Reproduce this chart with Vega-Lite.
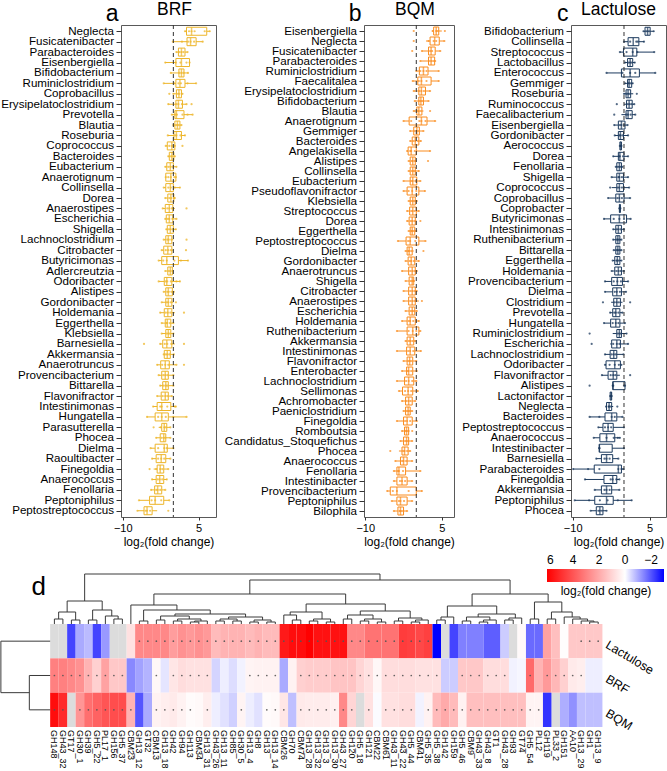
{
"$schema": "https://vega.github.io/schema/vega-lite/v6.json",
"padding": {"left": 0, "top": 0, "right": 0, "bottom": 0},
"background": "white",
"config": {
  "font": "Liberation Sans",
  "view": {"stroke": "#595959", "strokeWidth": 1},
  "axis": {"grid": false, "domain": false, "labelColor": "#000", "tickColor": "#333", "titleColor": "#000", "titleFontWeight": "normal"},
  "title": {"fontWeight": "normal", "color": "#000"}
},
"datasets": {
"brf": [
{"g":"Neglecta","lo":2.3,"q1":2.6,"md":3.6,"q3":6.6,"hi":7.2,"o":[2.3,3.1,3.6,4.2,6.2,7.2]},
{"g":"Fusicatenibacter","lo":-0.1,"q1":2.7,"md":3.4,"q3":4.5,"hi":5.8,"o":[-0.1,1.7,2.9,3.4,4.1,5.8]},
{"g":"Parabacteroides","lo":0.6,"q1":1.0,"md":1.6,"q3":2.3,"hi":2.8,"o":[0.6,1.2,1.6,2.0,2.8]},
{"g":"Eisenbergiella","lo":-1.6,"q1":0.5,"md":1.6,"q3":3.2,"hi":3.2,"o":[-1.6,0.5,1.4,2.6,3.2]},
{"g":"Bifidobacterium","lo":-0.5,"q1":1.1,"md":1.6,"q3":2.1,"hi":2.9,"o":[-0.5,1.2,1.6,2.0,2.9]},
{"g":"Ruminiclostridium","lo":-1.9,"q1":0.5,"md":1.3,"q3":2.3,"hi":4.5,"o":[-1.9,0.2,1.0,1.5,2.8,4.5]},
{"g":"Coprobacillus","lo":0.0,"q1":0.6,"md":1.1,"q3":1.6,"hi":1.8,"o":[-0.8,0.0,0.9,1.2,1.8]},
{"g":"Erysipelatoclostridium","lo":-1.0,"q1":0.5,"md":1.0,"q3":1.8,"hi":2.6,"o":[-1.0,0.6,1.0,1.7,2.6,3.6]},
{"g":"Prevotella","lo":-0.3,"q1":0.3,"md":0.6,"q3":2.1,"hi":3.8,"o":[-0.3,0.4,0.7,1.8,2.8,3.8]},
{"g":"Blautia","lo":0.0,"q1":0.3,"md":0.8,"q3":1.3,"hi":1.6,"o":[0.0,0.5,0.8,1.1,1.6]},
{"g":"Roseburia","lo":-1.1,"q1":0.1,"md":0.6,"q3":1.6,"hi":2.3,"o":[-1.1,0.3,0.6,1.4,2.3]},
{"g":"Coprococcus","lo":-1.5,"q1":-1.2,"md":-0.3,"q3":0.3,"hi":0.5,"o":[-1.5,-0.8,-0.3,0.2,1.8]},
{"g":"Bacteroides","lo":-1.0,"q1":-0.8,"md":-0.3,"q3":0.1,"hi":0.3,"o":[-1.0,-0.5,-0.2,0.3]},
{"g":"Eubacterium","lo":-1.6,"q1":-1.3,"md":-0.6,"q3":0.0,"hi":0.6,"o":[-1.6,-1.0,-0.6,-0.2,0.6]},
{"g":"Anaerotignum","lo":-1.5,"q1":-1.5,"md":-0.5,"q3":0.5,"hi":0.5,"o":[-1.5,-1.0,-0.5,0.2,0.5]},
{"g":"Collinsella","lo":-1.9,"q1":-1.5,"md":-0.6,"q3":0.0,"hi":1.3,"o":[-1.9,-1.0,-0.5,0.3,1.3]},
{"g":"Dorea","lo":-1.6,"q1":-1.1,"md":-0.5,"q3":0.1,"hi":0.3,"o":[-1.6,-0.8,-0.4,0.1,0.3]},
{"g":"Anaerostipes","lo":-2.1,"q1":-1.6,"md":-0.8,"q3":-0.1,"hi":0.3,"o":[-2.1,-1.2,-0.8,-0.3,2.6]},
{"g":"Escherichia","lo":-1.6,"q1":-1.4,"md":-0.8,"q3":-0.1,"hi":0.6,"o":[-1.6,-1.1,-0.8,-0.2,0.6]},
{"g":"Shigella","lo":-1.4,"q1":-1.2,"md":-0.6,"q3":0.0,"hi":0.5,"o":[-1.4,-0.9,-0.6,-0.2,0.5]},
{"g":"Lachnoclostridium","lo":-1.9,"q1":-1.5,"md":-1.0,"q3":-0.3,"hi":0.0,"o":[-1.9,-1.2,-0.9,-0.4,2.6]},
{"g":"Citrobacter","lo":-2.3,"q1":-1.9,"md":-1.1,"q3":-0.3,"hi":0.0,"o":[-2.3,-1.5,-1.0,-0.5,2.5]},
{"g":"Butyricimonas","lo":-2.9,"q1":-2.3,"md":-1.3,"q3":1.0,"hi":2.9,"o":[-2.9,-2.0,-1.3,0.2,1.5,2.9]},
{"g":"Adlercreutzia","lo":-1.6,"q1":-1.1,"md":-0.6,"q3":-0.2,"hi":0.0,"o":[-1.6,-0.9,-0.6,-0.2]},
{"g":"Odoribacter","lo":-2.9,"q1":-1.8,"md":-1.3,"q3":-0.3,"hi":1.3,"o":[-2.9,-1.5,-1.2,-0.5,0.6,1.3]},
{"g":"Alistipes","lo":-1.9,"q1":-1.5,"md":-1.0,"q3":-0.2,"hi":0.1,"o":[-1.9,-1.2,-0.9,-0.4,0.1]},
{"g":"Gordonibacter","lo":-2.3,"q1":-1.5,"md":-1.0,"q3":-0.3,"hi":0.0,"o":[-2.3,-1.3,-1.0,-0.5,0.5]},
{"g":"Holdemania","lo":-2.6,"q1":-1.8,"md":-1.1,"q3":-0.3,"hi":0.3,"o":[-2.6,-1.5,-1.1,-0.6,2.1]},
{"g":"Eggerthella","lo":-2.3,"q1":-1.6,"md":-1.2,"q3":-0.5,"hi":0.0,"o":[-2.3,-1.4,-1.2,-0.7,0.0]},
{"g":"Klebsiella","lo":-2.3,"q1":-1.5,"md":-1.0,"q3":-0.5,"hi":0.0,"o":[-2.3,-1.3,-1.0,-0.7,0.0]},
{"g":"Barnesiella","lo":-2.6,"q1":-2.1,"md":-1.3,"q3":-0.3,"hi":0.3,"o":[-5.8,-2.6,-1.7,-1.2,-0.4,2.1]},
{"g":"Akkermansia","lo":-1.9,"q1":-1.8,"md":-1.2,"q3":-0.6,"hi":0.0,"o":[-1.9,-1.5,-1.2,-0.8,0.1]},
{"g":"Anaerotruncus","lo":-3.2,"q1":-2.5,"md":-1.6,"q3":-0.8,"hi":0.6,"o":[-3.2,-2.2,-1.6,-1.0,0.6,2.1]},
{"g":"Provencibacterium","lo":-2.9,"q1":-2.3,"md":-1.6,"q3":-1.0,"hi":0.0,"o":[-2.9,-2.0,-1.6,-1.2,0.0]},
{"g":"Bittarella","lo":-2.6,"q1":-2.1,"md":-1.5,"q3":-1.0,"hi":0.0,"o":[-2.6,-1.9,-1.5,-1.2,0.0]},
{"g":"Flavonifractor","lo":-3.2,"q1":-2.4,"md":-1.6,"q3":-1.0,"hi":-0.3,"o":[-3.2,-2.1,-1.6,-1.2,-0.3]},
{"g":"Intestinimonas","lo":-4.0,"q1":-3.2,"md":-2.3,"q3":-0.5,"hi":0.5,"o":[-4.0,-2.6,-2.3,-1.2,0.3,0.5]},
{"g":"Hungatella","lo":-5.2,"q1":-3.6,"md":-2.3,"q3":-1.0,"hi":2.6,"o":[-5.2,-3.0,-2.3,-1.5,0.0,2.6]},
{"g":"Parasutterella","lo":-2.9,"q1":-2.3,"md":-1.8,"q3":-1.3,"hi":-0.6,"o":[-3.9,-2.5,-1.8,-1.5,-0.6]},
{"g":"Phocea","lo":-3.4,"q1":-2.6,"md":-1.9,"q3":-1.5,"hi":-0.6,"o":[-3.4,-2.3,-1.9,-1.6,-0.6]},
{"g":"Dielma","lo":-4.5,"q1":-3.6,"md":-1.8,"q3":-1.2,"hi":0.0,"o":[-4.5,-3.0,-1.8,-1.3,0.0]},
{"g":"Raoultibacter","lo":-4.2,"q1":-3.4,"md":-2.4,"q3":-1.5,"hi":-0.6,"o":[-4.2,-3.0,-2.4,-1.8,-0.6]},
{"g":"Finegoldia","lo":-3.9,"q1":-3.2,"md":-2.6,"q3":-1.9,"hi":-1.0,"o":[-4.7,-3.4,-2.6,-2.2,-1.0]},
{"g":"Anaerococcus","lo":-4.2,"q1":-3.4,"md":-2.7,"q3":-1.9,"hi":-1.3,"o":[-4.2,-3.1,-2.7,-2.2,-1.3]},
{"g":"Fenollaria","lo":-4.4,"q1":-3.7,"md":-3.1,"q3":-2.3,"hi":-1.6,"o":[-4.4,-3.4,-3.1,-2.6,-1.6]},
{"g":"Peptoniphilus","lo":-6.8,"q1":-4.7,"md":-3.6,"q3":-1.9,"hi":-0.8,"o":[-6.8,-4.3,-3.6,-2.4,-0.8]},
{"g":"Peptostreptococcus","lo":-7.1,"q1":-5.8,"md":-5.2,"q3":-4.2,"hi":-3.2,"o":[-7.1,-5.5,-5.2,-4.6,-1.0]}
],
"bqm": [
{"g":"Eisenbergiella","lo":3.1,"q1":3.4,"md":3.9,"q3":4.4,"hi":5.0,"o":[-0.5,3.2,3.9,4.2,5.6]},
{"g":"Neglecta","lo":1.9,"q1":2.7,"md":3.6,"q3":4.5,"hi":5.5,"o":[-0.5,2.4,3.4,3.9,5.5]},
{"g":"Fusicatenibacter","lo":1.1,"q1":2.4,"md":2.9,"q3":3.7,"hi":4.7,"o":[-0.8,1.1,2.7,3.1,4.7]},
{"g":"Parabacteroides","lo":0.8,"q1":2.4,"md":2.9,"q3":3.6,"hi":3.7,"o":[0.8,2.5,2.9,3.3,3.7]},
{"g":"Ruminiclostridium","lo":0.0,"q1":0.6,"md":1.4,"q3":2.3,"hi":4.4,"o":[0.0,0.8,1.4,2.0,4.4]},
{"g":"Faecalitalea","lo":-0.7,"q1":0.3,"md":1.0,"q3":2.9,"hi":4.4,"o":[-0.7,0.5,1.0,2.0,4.4]},
{"g":"Erysipelatoclostridium","lo":-0.5,"q1":0.5,"md":1.0,"q3":1.8,"hi":2.7,"o":[-0.5,0.6,1.0,1.5,2.7]},
{"g":"Bifidobacterium","lo":-0.3,"q1":0.5,"md":0.9,"q3":1.4,"hi":2.4,"o":[-0.3,0.6,0.9,1.2,2.4]},
{"g":"Blautia","lo":-0.5,"q1":0.1,"md":0.5,"q3":1.1,"hi":1.4,"o":[-0.5,0.2,0.5,0.9,2.7]},
{"g":"Anaerotignum","lo":-2.5,"q1":-1.4,"md":1.0,"q3":2.1,"hi":3.7,"o":[-2.5,-1.0,0.6,1.0,1.8,3.7]},
{"g":"Gemmiger","lo":-1.2,"q1":-0.5,"md":0.1,"q3":0.6,"hi":1.4,"o":[-1.2,-0.3,0.1,0.4,1.4]},
{"g":"Bacteroides","lo":-1.2,"q1":-0.8,"md":-0.2,"q3":0.5,"hi":0.9,"o":[-1.2,-0.6,-0.2,0.3,0.9]},
{"g":"Angelakisella","lo":-1.8,"q1":-1.6,"md":-1.0,"q3":0.0,"hi":2.7,"o":[-1.8,-1.2,-1.0,-0.3,2.7]},
{"g":"Alistipes","lo":-1.5,"q1":-1.2,"md":-0.7,"q3":-0.2,"hi":0.1,"o":[-1.5,-0.9,-0.7,-0.3,2.3]},
{"g":"Collinsella","lo":-1.5,"q1":-1.2,"md":-0.7,"q3":-0.2,"hi":0.5,"o":[-1.5,-0.9,-0.6,-0.3,0.5]},
{"g":"Eubacterium","lo":-2.5,"q1":-1.2,"md":-0.7,"q3":0.1,"hi":0.8,"o":[-2.5,-1.0,-0.7,-0.2,0.8]},
{"g":"Pseudoflavonifractor","lo":-2.5,"q1":-1.8,"md":-0.8,"q3":0.5,"hi":1.7,"o":[-2.5,-1.5,-0.8,0.0,1.7]},
{"g":"Klebsiella","lo":-1.5,"q1":-1.2,"md":-0.7,"q3":-0.2,"hi":0.1,"o":[-1.5,-1.0,-0.7,-0.4,0.1]},
{"g":"Streptococcus","lo":-1.8,"q1":-1.3,"md":-0.7,"q3":0.0,"hi":0.5,"o":[-1.8,-1.0,-0.7,-0.3,0.5]},
{"g":"Dorea","lo":-1.8,"q1":-1.4,"md":-0.8,"q3":-0.2,"hi":0.1,"o":[-1.8,-1.1,-0.8,-0.4,0.8]},
{"g":"Eggerthella","lo":-1.5,"q1":-1.2,"md":-0.8,"q3":-0.3,"hi":0.0,"o":[-1.5,-1.0,-0.8,-0.5,0.0]},
{"g":"Peptostreptococcus","lo":-3.6,"q1":-2.0,"md":-1.2,"q3":0.5,"hi":1.8,"o":[-3.6,-1.6,-1.2,-0.2,1.8]},
{"g":"Dielma","lo":-2.1,"q1":-1.8,"md":-1.4,"q3":-0.8,"hi":-0.5,"o":[-2.1,-1.6,-1.4,-1.0,1.4]},
{"g":"Gordonibacter","lo":-2.1,"q1":-1.6,"md":-1.0,"q3":-0.3,"hi":0.5,"o":[-2.1,-1.3,-1.0,-0.5,0.5]},
{"g":"Anaerotruncus","lo":-2.8,"q1":-1.5,"md":-0.8,"q3":-0.2,"hi":0.1,"o":[-2.8,-1.2,-0.8,-0.4,0.1]},
{"g":"Shigella","lo":-2.1,"q1":-1.4,"md":-0.8,"q3":-0.5,"hi":-0.3,"o":[-2.1,-1.1,-0.8,-0.5]},
{"g":"Citrobacter","lo":-2.5,"q1":-1.5,"md":-0.8,"q3":-0.2,"hi":0.1,"o":[-2.5,-1.2,-0.8,-0.4,0.1]},
{"g":"Anaerostipes","lo":-2.5,"q1":-1.5,"md":-0.8,"q3":-0.2,"hi":0.5,"o":[-2.5,-1.2,-0.8,-0.4,1.1]},
{"g":"Escherichia","lo":-2.1,"q1":-1.4,"md":-0.8,"q3":-0.3,"hi":0.1,"o":[-2.1,-1.1,-0.8,-0.5,0.1]},
{"g":"Holdemania","lo":-2.8,"q1":-1.8,"md":-1.2,"q3":-0.2,"hi":0.5,"o":[-2.8,-1.5,-1.2,-0.6,0.5]},
{"g":"Ruthenibacterium","lo":-3.8,"q1":-1.8,"md":-0.7,"q3":0.5,"hi":0.8,"o":[-3.8,-1.5,-0.7,0.0,0.8]},
{"g":"Akkermansia","lo":-2.1,"q1":-1.8,"md":-1.2,"q3":-0.5,"hi":-0.2,"o":[-2.1,-1.5,-1.2,-0.8,-0.2]},
{"g":"Intestinimonas","lo":-3.8,"q1":-1.9,"md":-1.2,"q3":-0.3,"hi":0.9,"o":[-3.8,-1.6,-1.2,-0.6,0.9]},
{"g":"Flavonifractor","lo":-2.5,"q1":-1.8,"md":-1.3,"q3":-0.7,"hi":0.0,"o":[-2.5,-1.6,-1.3,-1.0,0.0]},
{"g":"Enterobacter","lo":-2.8,"q1":-1.9,"md":-1.5,"q3":-0.7,"hi":0.1,"o":[-2.8,-1.7,-1.5,-1.0,0.1]},
{"g":"Lachnoclostridium","lo":-3.8,"q1":-2.3,"md":-1.5,"q3":-0.5,"hi":0.0,"o":[-3.8,-2.0,-1.5,-0.8,0.0]},
{"g":"Sellimonas","lo":-3.4,"q1":-2.7,"md":-1.6,"q3":-0.7,"hi":0.3,"o":[-3.4,-2.2,-1.6,-1.0,0.3]},
{"g":"Achromobacter","lo":-2.8,"q1":-2.1,"md":-1.5,"q3":-0.8,"hi":-0.2,"o":[-2.8,-1.9,-1.5,-1.1,-0.2]},
{"g":"Paeniclostridium","lo":-2.5,"q1":-2.1,"md":-1.6,"q3":-1.2,"hi":-0.8,"o":[-2.5,-1.9,-1.6,-1.3,-0.8]},
{"g":"Finegoldia","lo":-3.8,"q1":-2.5,"md":-1.8,"q3":-0.8,"hi":0.1,"o":[-3.8,-2.2,-1.8,-1.2,0.1]},
{"g":"Romboutsia","lo":-2.8,"q1":-2.3,"md":-1.9,"q3":-1.5,"hi":-1.3,"o":[-2.8,-2.1,-1.9,-1.6,-0.8]},
{"g":"Candidatus_Stoquefichus","lo":-3.1,"q1":-2.5,"md":-1.9,"q3":-1.5,"hi":-0.8,"o":[-3.1,-2.2,-1.9,-1.6,-0.8]},
{"g":"Phocea","lo":-3.4,"q1":-2.8,"md":-2.3,"q3":-1.6,"hi":-1.2,"o":[-5.1,-2.6,-2.3,-1.8,-1.2]},
{"g":"Anaerococcus","lo":-4.1,"q1":-3.1,"md":-2.5,"q3":-1.8,"hi":-0.8,"o":[-4.1,-2.8,-2.5,-2.0,-0.8]},
{"g":"Fenollaria","lo":-4.4,"q1":-3.8,"md":-3.4,"q3":-2.1,"hi":0.8,"o":[-4.4,-3.6,-3.4,-2.6,0.8]},
{"g":"Intestinibacter","lo":-4.4,"q1":-3.8,"md":-2.8,"q3":-1.8,"hi":-0.8,"o":[-4.4,-3.2,-2.8,-2.2,-0.8]},
{"g":"Provencibacterium","lo":-5.7,"q1":-5.1,"md":-3.8,"q3":0.0,"hi":1.1,"o":[-5.7,-4.6,-3.8,-1.5,1.1]},
{"g":"Peptoniphilus","lo":-4.8,"q1":-3.8,"md":-3.1,"q3":-1.8,"hi":-0.8,"o":[-4.8,-3.4,-3.1,-2.4,-0.8]},
{"g":"Bilophila","lo":-4.4,"q1":-3.6,"md":-3.1,"q3":-2.5,"hi":-1.8,"o":[-4.4,-3.3,-3.1,-2.8,-1.8]}
],
"lac": [
{"g":"Bifidobacterium","lo":3.8,"q1":4.1,"md":4.6,"q3":5.1,"hi":5.8,"o":[3.8,4.3,4.6,4.9,5.8]},
{"g":"Collinsella","lo":0.0,"q1":0.8,"md":1.8,"q3":2.9,"hi":3.9,"o":[0.0,1.2,2.4,2.7,3.9]},
{"g":"Streptococcus","lo":-0.8,"q1":-0.1,"md":1.7,"q3":2.5,"hi":5.9,"o":[-0.8,0.5,1.7,2.6,5.9]},
{"g":"Lactobacillus","lo":0.2,"q1":0.7,"md":1.2,"q3":1.7,"hi":2.1,"o":[0.2,0.9,1.2,1.5,2.1]},
{"g":"Enterococcus","lo":-3.4,"q1":-0.5,"md":1.2,"q3":3.0,"hi":6.1,"o":[-3.4,-0.3,1.2,2.2,6.1]},
{"g":"Gemmiger","lo":0.2,"q1":0.7,"md":1.0,"q3":1.5,"hi":1.7,"o":[0.2,0.8,1.0,1.3,1.7]},
{"g":"Roseburia","lo":0.0,"q1":0.4,"md":0.8,"q3":1.3,"hi":1.8,"o":[0.0,0.5,0.8,1.1,2.5]},
{"g":"Ruminococcus","lo":0.0,"q1":0.5,"md":1.0,"q3":1.6,"hi":2.0,"o":[-1.4,0.6,1.0,1.4,2.0]},
{"g":"Faecalibacterium","lo":-0.5,"q1":0.4,"md":0.8,"q3":1.6,"hi":2.2,"o":[-1.9,0.5,0.8,1.3,2.2]},
{"g":"Eisenbergiella","lo":-1.9,"q1":-1.1,"md":-0.5,"q3":0.2,"hi":0.7,"o":[-1.9,-0.8,-0.5,0.0,0.7]},
{"g":"Gordonibacter","lo":-1.8,"q1":-1.1,"md":-0.7,"q3":-0.1,"hi":0.8,"o":[-1.8,-0.9,-0.7,-0.3,0.8]},
{"g":"Aerococcus","lo":-0.8,"q1":-0.8,"md":-0.6,"q3":-0.5,"hi":-0.5,"o":[-0.8,-0.6,-0.5]},
{"g":"Dorea","lo":-2.1,"q1":-1.1,"md":-0.8,"q3":0.0,"hi":0.8,"o":[-2.1,-1.0,-0.8,-0.2,0.8]},
{"g":"Fenollaria","lo":-1.6,"q1":-1.4,"md":-0.9,"q3":-0.5,"hi":-0.3,"o":[-1.6,-1.2,-0.9,-0.6,-0.3]},
{"g":"Shigella","lo":-2.4,"q1":-1.4,"md":-0.9,"q3":-0.1,"hi":0.8,"o":[-2.4,-1.1,-0.9,-0.4,0.8]},
{"g":"Coprococcus","lo":-2.4,"q1":-1.4,"md":-0.9,"q3":-0.1,"hi":1.0,"o":[-2.7,-1.2,-0.9,-0.4,1.0]},
{"g":"Coprobacillus","lo":-3.1,"q1":-1.6,"md":-0.9,"q3":0.0,"hi":1.2,"o":[-3.1,-1.3,-0.9,-0.4,1.2]},
{"g":"Coprobacter","lo":-0.9,"q1":-0.9,"md":-0.8,"q3":-0.7,"hi":-0.7,"o":[-0.9,-0.8,-0.7]},
{"g":"Butyricimonas","lo":-3.9,"q1":-2.6,"md":-0.9,"q3":0.5,"hi":1.3,"o":[-3.9,-2.0,-0.9,0.0,1.3]},
{"g":"Intestinimonas","lo":-2.1,"q1":-1.6,"md":-1.1,"q3":-0.5,"hi":0.0,"o":[-2.1,-1.4,-1.1,-0.7,0.0]},
{"g":"Ruthenibacterium","lo":-2.1,"q1":-1.6,"md":-1.2,"q3":-0.8,"hi":-0.5,"o":[-2.1,-1.4,-1.2,-0.9,-0.5]},
{"g":"Bittarella","lo":-2.0,"q1":-1.6,"md":-1.2,"q3":-0.8,"hi":-0.5,"o":[-2.0,-1.4,-1.2,-0.9,-0.5]},
{"g":"Eggerthella","lo":-2.2,"q1":-1.8,"md":-1.3,"q3":-0.8,"hi":-0.5,"o":[-2.2,-1.5,-1.3,-1.0,-0.5]},
{"g":"Holdemania","lo":-2.4,"q1":-1.8,"md":-1.1,"q3":-0.5,"hi":0.0,"o":[-2.4,-1.5,-1.1,-0.7,0.0]},
{"g":"Provencibacterium","lo":-3.7,"q1":-2.4,"md":-1.3,"q3":-0.3,"hi":0.8,"o":[-3.7,-2.0,-1.3,-0.6,0.8]},
{"g":"Dielma","lo":-3.7,"q1":-2.2,"md":-1.4,"q3":-0.5,"hi":0.4,"o":[-3.7,-1.8,-1.4,-0.8,0.4]},
{"g":"Clostridium","lo":-2.5,"q1":-2.0,"md":-1.4,"q3":-0.7,"hi":-0.3,"o":[-4.1,-1.8,-1.4,-1.0,1.2]},
{"g":"Prevotella","lo":-2.7,"q1":-2.2,"md":-1.6,"q3":-0.8,"hi":-0.3,"o":[-2.7,-1.9,-1.6,-1.1,-0.3]},
{"g":"Hungatella","lo":-3.9,"q1":-2.6,"md":-1.6,"q3":-0.8,"hi":0.2,"o":[-3.9,-2.2,-1.6,-1.1,0.2]},
{"g":"Ruminiclostridium","lo":-2.2,"q1":-1.4,"md":-0.9,"q3":-0.5,"hi":0.5,"o":[-6.7,-1.2,-0.9,-0.6,0.5]},
{"g":"Escherichia","lo":-2.7,"q1":-2.4,"md":-1.4,"q3":-0.7,"hi":0.8,"o":[-6.3,-2.1,-1.4,-0.9,0.8]},
{"g":"Lachnoclostridium","lo":-3.7,"q1":-2.7,"md":-2.0,"q3":-1.4,"hi":-0.1,"o":[-3.7,-2.4,-2.0,-1.6,-0.1]},
{"g":"Odoribacter","lo":-3.7,"q1":-3.5,"md":-1.8,"q3":-0.7,"hi":-0.5,"o":[-3.7,-2.8,-1.8,-1.0,-0.5]},
{"g":"Flavonifractor","lo":-4.3,"q1":-3.1,"md":-2.1,"q3":-1.4,"hi":-0.8,"o":[-4.3,-2.6,-2.1,-1.7,1.2]},
{"g":"Alistipes","lo":-2.2,"q1":-2.2,"md":-2.1,"q3":0.2,"hi":0.2,"o":[-6.7,-2.2,-2.1,0.0,0.2]},
{"g":"Lactonifactor","lo":-2.7,"q1":-2.7,"md":-2.5,"q3":-2.4,"hi":-2.4,"o":[-2.7,-2.5,-2.4]},
{"g":"Neglecta","lo":-3.5,"q1":-3.4,"md":-2.9,"q3":-2.4,"hi":-2.1,"o":[-3.5,-3.0,-2.9,-2.6,-1.3]},
{"g":"Bacteroides","lo":-6.7,"q1":-3.7,"md":-2.4,"q3":-1.4,"hi":-0.3,"o":[-6.7,-4.8,-2.4,-1.8,-0.3]},
{"g":"Peptostreptococcus","lo":-5.0,"q1":-4.1,"md":-3.1,"q3":-2.1,"hi":0.0,"o":[-5.0,-3.7,-3.1,-2.5,0.0]},
{"g":"Anaerococcus","lo":-5.9,"q1":-4.7,"md":-3.4,"q3":-1.8,"hi":-0.8,"o":[-5.9,-3.4,-2.0,-1.2,-0.8]},
{"g":"Intestinibacter","lo":-4.8,"q1":-4.8,"md":-4.8,"q3":-2.3,"hi":0.0,"o":[-4.8,-4.8,0.0]},
{"g":"Barnesiella","lo":-5.4,"q1":-4.4,"md":-3.4,"q3":-2.2,"hi":-1.1,"o":[-5.4,-3.8,-3.4,-2.8,-1.1]},
{"g":"Parabacteroides","lo":-9.9,"q1":-5.8,"md":-1.1,"q3":-0.5,"hi":-0.1,"o":[-9.9,-7.0,-4.8,-1.1,-0.5,-0.1]},
{"g":"Finegoldia","lo":-7.6,"q1":-3.9,"md":-2.2,"q3":-1.4,"hi":-0.9,"o":[-7.6,-2.6,-2.2,-1.5,-0.9]},
{"g":"Akkermansia","lo":-5.7,"q1":-4.4,"md":-3.4,"q3":-2.4,"hi":-0.9,"o":[-5.7,-3.8,-3.4,-2.8,-0.9]},
{"g":"Peptoniphilus","lo":-9.6,"q1":-5.7,"md":-3.4,"q3":-2.1,"hi":1.5,"o":[-9.6,-6.8,-4.7,-3.2,-1.2,1.5]},
{"g":"Phocea","lo":-6.5,"q1":-5.4,"md":-4.7,"q3":-4.1,"hi":-3.4,"o":[-6.5,-5.0,-4.7,-4.3,-3.4]}
],
"rows": [
{"r":"Lactulose","y":2.5},
{"r":"BRF","y":1.5},
{"r":"BQM","y":0.5}
],
"hm": [
{"c":"GH148","i":0.5,"Lactulose":null,"BRF":3.0,"BQM":5.7,"s":["BRF","BQM"]},
{"c":"GH43_32","i":1.5,"Lactulose":null,"BRF":3.0,"BQM":5.0,"s":["BRF","BQM"]},
{"c":"GT17","i":2.5,"Lactulose":-2.2,"BRF":2.8,"BQM":null,"s":["BRF"]},
{"c":"GH30_1","i":3.5,"Lactulose":-1.0,"BRF":2.6,"BQM":2.5,"s":["BRF","BQM"]},
{"c":"GH39","i":4.5,"Lactulose":-0.8,"BRF":1.8,"BQM":3.4,"s":["BRF","BQM"]},
{"c":"GH5_22","i":5.5,"Lactulose":-2.2,"BRF":1.1,"BQM":3.7,"s":["BRF","BQM"]},
{"c":"PL17_1","i":6.5,"Lactulose":-1.2,"BRF":2.2,"BQM":4.0,"s":["BRF","BQM"]},
{"c":"GH156","i":7.5,"Lactulose":null,"BRF":1.3,"BQM":4.2,"s":["BRF","BQM"]},
{"c":"GH5_37","i":8.5,"Lactulose":null,"BRF":1.3,"BQM":4.2,"s":["BRF","BQM"]},
{"c":"CBM23","i":9.5,"Lactulose":0.7,"BRF":-1.4,"BQM":1.8,"s":["BQM"]},
{"c":"GH13_12","i":10.5,"Lactulose":2.8,"BRF":-1.1,"BQM":-2.0,"s":["Lactulose"]},
{"c":"GT32","i":11.5,"Lactulose":2.8,"BRF":-0.9,"BQM":-1.0,"s":["Lactulose"]},
{"c":"CBM13","i":12.5,"Lactulose":2.8,"BRF":0.2,"BQM":0.3,"s":["Lactulose","BRF","BQM"]},
{"c":"GH13_18","i":13.5,"Lactulose":2.8,"BRF":-0.3,"BQM":0.4,"s":["Lactulose","BQM"]},
{"c":"GH42","i":14.5,"Lactulose":2.3,"BRF":0.6,"BQM":0.5,"s":["Lactulose","BRF","BQM"]},
{"c":"GH94","i":15.5,"Lactulose":2.6,"BRF":0.8,"BQM":0.3,"s":["Lactulose","BRF","BQM"]},
{"c":"GH113","i":16.5,"Lactulose":2.4,"BRF":0.7,"BQM":0.1,"s":["Lactulose","BRF","BQM"]},
{"c":"CBM34","i":17.5,"Lactulose":2.6,"BRF":0.7,"BQM":0.15,"s":["Lactulose","BRF"]},
{"c":"GH13_31","i":18.5,"Lactulose":2.4,"BRF":0.7,"BQM":0.4,"s":["Lactulose","BRF","BQM"]},
{"c":"GH43_26","i":19.5,"Lactulose":1.6,"BRF":-0.5,"BQM":-0.2,"s":["Lactulose"]},
{"c":"GH13_11","i":20.5,"Lactulose":1.8,"BRF":-0.2,"BQM":-0.35,"s":["Lactulose"]},
{"c":"GH85","i":21.5,"Lactulose":1.8,"BRF":-0.4,"BQM":-0.55,"s":["Lactulose"]},
{"c":"GH30_5","i":22.5,"Lactulose":1.8,"BRF":-0.15,"BQM":0.25,"s":["Lactulose","BQM"]},
{"c":"GH13_4","i":23.5,"Lactulose":1.6,"BRF":0.25,"BQM":-0.2,"s":["Lactulose","BRF"]},
{"c":"GH8","i":24.5,"Lactulose":1.8,"BRF":0.3,"BQM":-0.35,"s":["Lactulose","BRF"]},
{"c":"GH13","i":25.5,"Lactulose":1.6,"BRF":0.3,"BQM":0.1,"s":["Lactulose","BRF","BQM"]},
{"c":"GH13_14","i":26.5,"Lactulose":1.6,"BRF":0.3,"BQM":0.15,"s":["Lactulose","BRF","BQM"]},
{"c":"CBM26","i":27.5,"Lactulose":5.4,"BRF":-1.0,"BQM":0.6,"s":["Lactulose","BQM"]},
{"c":"GH70","i":28.5,"Lactulose":5.7,"BRF":0.3,"BQM":-0.75,"s":["Lactulose"]},
{"c":"CBM74","i":29.5,"Lactulose":5.7,"BRF":1.1,"BQM":0.5,"s":["Lactulose","BRF","BQM"]},
{"c":"GH13_28","i":30.5,"Lactulose":6.0,"BRF":1.2,"BQM":0.45,"s":["Lactulose","BRF","BQM"]},
{"c":"GH13_32","i":31.5,"Lactulose":5.6,"BRF":1.2,"BQM":0.45,"s":["Lactulose","BRF","BQM"]},
{"c":"GH13_3","i":32.5,"Lactulose":5.6,"BRF":1.2,"BQM":0.45,"s":["Lactulose","BRF","BQM"]},
{"c":"GH13_30","i":33.5,"Lactulose":5.6,"BRF":1.4,"BQM":0.35,"s":["Lactulose","BRF","BQM"]},
{"c":"GH43_27","i":34.5,"Lactulose":5.6,"BRF":1.4,"BQM":2.8,"s":["Lactulose","BRF","BQM"]},
{"c":"GH120","i":35.5,"Lactulose":2.8,"BRF":1.4,"BQM":1.0,"s":["Lactulose","BRF","BQM"]},
{"c":"GH5_18","i":36.5,"Lactulose":2.8,"BRF":1.0,"BQM":null,"s":["Lactulose","BRF"]},
{"c":"GH121","i":37.5,"Lactulose":3.3,"BRF":0.7,"BQM":0.7,"s":["Lactulose","BRF","BQM"]},
{"c":"CBM22","i":38.5,"Lactulose":3.3,"BRF":0.2,"BQM":-0.05,"s":["Lactulose","BRF"]},
{"c":"CBM61","i":39.5,"Lactulose":3.3,"BRF":0.8,"BQM":0.7,"s":["Lactulose","BRF","BQM"]},
{"c":"GH43_11","i":40.5,"Lactulose":3.3,"BRF":0.8,"BQM":0.7,"s":["Lactulose","BRF","BQM"]},
{"c":"GH43_22","i":41.5,"Lactulose":4.6,"BRF":0.8,"BQM":0.8,"s":["Lactulose","BRF","BQM"]},
{"c":"GH5_44","i":42.5,"Lactulose":4.5,"BRF":0.8,"BQM":0.8,"s":["Lactulose","BRF","BQM"]},
{"c":"CBM41","i":43.5,"Lactulose":4.3,"BRF":0.7,"BQM":-0.15,"s":["Lactulose","BRF"]},
{"c":"GH5_35","i":44.5,"Lactulose":4.5,"BRF":0.7,"BQM":0.3,"s":["Lactulose","BRF","BQM"]},
{"c":"GH5_38","i":45.5,"Lactulose":-3.0,"BRF":0.7,"BQM":1.6,"s":["BRF","BQM"]},
{"c":"GH142","i":46.5,"Lactulose":null,"BRF":-0.6,"BQM":2.0,"s":["BQM"]},
{"c":"GH159","i":47.5,"Lactulose":-2.2,"BRF":-0.6,"BQM":1.6,"s":["BQM"]},
{"c":"GH5_46","i":48.5,"Lactulose":-1.5,"BRF":1.3,"BQM":0.3,"s":["BRF","BQM"]},
{"c":"CBM9","i":49.5,"Lactulose":-1.5,"BRF":1.3,"BQM":1.5,"s":["BRF","BQM"]},
{"c":"GH43_33","i":50.5,"Lactulose":-1.5,"BRF":1.3,"BQM":1.5,"s":["BRF","BQM"]},
{"c":"GH43_8","i":51.5,"Lactulose":-1.9,"BRF":0.8,"BQM":1.5,"s":["BRF","BQM"]},
{"c":"GT1","i":52.5,"Lactulose":-1.9,"BRF":0.8,"BQM":1.5,"s":["BRF","BQM"]},
{"c":"GH43_28","i":53.5,"Lactulose":-0.6,"BRF":0.8,"BQM":1.5,"s":["BRF","BQM"]},
{"c":"GH93","i":54.5,"Lactulose":null,"BRF":-0.15,"BQM":1.5,"s":["BQM"]},
{"c":"GT74","i":55.5,"Lactulose":0.15,"BRF":-0.1,"BQM":1.5,"s":["BQM"]},
{"c":"GH5_54","i":56.5,"Lactulose":-1.75,"BRF":3.5,"BQM":0.25,"s":["BRF","BQM"]},
{"c":"PL12","i":57.5,"Lactulose":-1.75,"BRF":1.8,"BQM":0.25,"s":["BQM"]},
{"c":"GH119","i":58.5,"Lactulose":2.2,"BRF":2.4,"BQM":-2.4,"s":["BRF"]},
{"c":"PL33_2","i":59.5,"Lactulose":1.5,"BRF":1.7,"BQM":null,"s":["BRF"]},
{"c":"GH151","i":60.5,"Lactulose":0.05,"BRF":1.1,"BQM":-0.95,"s":["BRF"]},
{"c":"AA10","i":61.5,"Lactulose":1.3,"BRF":0.5,"BQM":-1.3,"s":["BRF"]},
{"c":"GH13_29","i":62.5,"Lactulose":1.3,"BRF":0.4,"BQM":-0.75,"s":["Lactulose","BRF"]},
{"c":"GH1","i":63.5,"Lactulose":1.3,"BRF":-0.2,"BQM":-0.75,"s":["Lactulose"]},
{"c":"GH13_9","i":64.5,"Lactulose":1.3,"BRF":-0.2,"BQM":-0.75,"s":["Lactulose"]}
],
"cd": [
{"l":0.5,"r":1.5,"h":5,"hl":0,"hr":0},
{"l":2.5,"r":3.5,"h":4,"hl":0,"hr":0},
{"l":1.0,"r":3.0,"h":12,"hl":5,"hr":4},
{"l":4.5,"r":5.5,"h":4,"hl":0,"hr":0},
{"l":7.5,"r":8.5,"h":5,"hl":0,"hr":0},
{"l":6.5,"r":8.0,"h":8,"hl":0,"hr":5},
{"l":5.0,"r":7.25,"h":14,"hl":4,"hr":8},
{"l":2.0,"r":6.125,"h":23,"hl":12,"hr":14},
{"l":10.5,"r":11.5,"h":3,"hl":0,"hr":0},
{"l":12.5,"r":13.5,"h":4,"hl":0,"hr":0},
{"l":14.5,"r":15.5,"h":3,"hl":0,"hr":0},
{"l":16.5,"r":17.5,"h":2,"hl":0,"hr":0},
{"l":17.0,"r":18.5,"h":3,"hl":2,"hr":0},
{"l":15.0,"r":17.75,"h":5,"hl":3,"hr":3},
{"l":13.0,"r":16.375,"h":8,"hl":4,"hr":5},
{"l":19.5,"r":20.5,"h":3,"hl":0,"hr":0},
{"l":21.5,"r":22.5,"h":3,"hl":0,"hr":0},
{"l":20.0,"r":22.0,"h":5,"hl":3,"hr":3},
{"l":23.5,"r":24.5,"h":2,"hl":0,"hr":0},
{"l":25.5,"r":26.5,"h":2,"hl":0,"hr":0},
{"l":24.0,"r":26.0,"h":4,"hl":2,"hr":2},
{"l":21.0,"r":25.0,"h":7,"hl":5,"hr":4},
{"l":14.69,"r":23.0,"h":10,"hl":8,"hr":7},
{"l":11.0,"r":18.84,"h":14,"hl":3,"hr":10},
{"l":9.5,"r":14.92,"h":19,"hl":0,"hr":14},
{"l":28.5,"r":29.5,"h":4,"hl":0,"hr":0},
{"l":27.5,"r":29.0,"h":9,"hl":0,"hr":4},
{"l":30.5,"r":31.5,"h":3,"hl":0,"hr":0},
{"l":32.5,"r":33.5,"h":2,"hl":0,"hr":0},
{"l":31.0,"r":33.0,"h":5,"hl":3,"hr":2},
{"l":28.25,"r":32.0,"h":12,"hl":9,"hr":5},
{"l":34.5,"r":35.5,"h":5,"hl":0,"hr":0},
{"l":36.5,"r":37.5,"h":3,"hl":0,"hr":0},
{"l":38.5,"r":39.5,"h":2,"hl":0,"hr":0},
{"l":37.0,"r":39.0,"h":5,"hl":3,"hr":2},
{"l":35.0,"r":38.0,"h":9,"hl":5,"hr":5},
{"l":40.5,"r":41.5,"h":3,"hl":0,"hr":0},
{"l":42.5,"r":43.5,"h":2,"hl":0,"hr":0},
{"l":43.0,"r":44.5,"h":4,"hl":2,"hr":0},
{"l":41.0,"r":43.75,"h":6,"hl":3,"hr":4},
{"l":36.5,"r":42.375,"h":13,"hl":9,"hr":6},
{"l":30.125,"r":39.44,"h":20,"hl":12,"hr":13},
{"l":12.21,"r":34.78,"h":30,"hl":19,"hr":20},
{"l":45.5,"r":46.5,"h":4,"hl":0,"hr":0},
{"l":46.0,"r":47.5,"h":7,"hl":4,"hr":0},
{"l":48.5,"r":49.5,"h":3,"hl":0,"hr":0},
{"l":50.5,"r":51.5,"h":2,"hl":0,"hr":0},
{"l":51.0,"r":52.5,"h":4,"hl":2,"hr":0},
{"l":49.0,"r":51.75,"h":7,"hl":3,"hr":4},
{"l":53.5,"r":54.5,"h":4,"hl":0,"hr":0},
{"l":54.0,"r":55.5,"h":6,"hl":4,"hr":0},
{"l":50.375,"r":54.75,"h":10,"hl":7,"hr":6},
{"l":46.75,"r":52.56,"h":18,"hl":7,"hr":10},
{"l":56.5,"r":57.5,"h":5,"hl":0,"hr":0},
{"l":58.5,"r":59.5,"h":5,"hl":0,"hr":0},
{"l":63.5,"r":64.5,"h":2,"hl":0,"hr":0},
{"l":62.5,"r":64.0,"h":3,"hl":0,"hr":2},
{"l":61.5,"r":63.25,"h":5,"hl":0,"hr":3},
{"l":60.5,"r":62.375,"h":7,"hl":0,"hr":5},
{"l":59.0,"r":61.44,"h":12,"hl":5,"hr":7},
{"l":57.0,"r":60.22,"h":22,"hl":5,"hr":12},
{"l":49.66,"r":58.61,"h":30,"hl":18,"hr":22},
{"l":23.5,"r":54.13,"h":44,"hl":30,"hr":30},
{"l":4.06,"r":38.82,"h":50,"hl":23,"hr":44}
],
"rd": [
{"a":0.5,"b":1.5,"h":-2.45,"ha":0,"hb":0},
{"a":1.0,"b":2.5,"h":-5.8,"ha":-2.45,"hb":0}
]
},
"concat": [
{
"spacing": 6,
"hconcat": [
{
"width": 95, "height": 492,
"data": {"name": "brf"},
"title": {"text": "BRF", "fontSize": 17.5, "offset": 4, "dy": 20, "dx": 6},
"layer": [
{"mark": {"type": "rule", "color": "#EDB52A", "strokeWidth": 1},
 "encoding": {"y": {"field": "g", "type": "nominal", "sort": null, "scale": {"type": "point", "padding": 0.6}, "axis": {"title": "a", "titleAngle": 0, "titleX": -3, "titleY": -5, "titleAlign": "right", "titleBaseline": "alphabetic", "titleFontSize": 23, "labelFontSize": 11.6, "labelPadding": 2.5, "tickSize": 5, "labelOverlap": false, "labelBound": false}},
  "x": {"field": "lo", "type": "quantitative", "scale": {"domain": [-10.35, 8.43], "nice": false, "zero": false}, "axis": {"values": [-10, -5, 0, 5], "title": "log₂(fold change)", "titleFontSize": 12, "labelFontSize": 11, "tickSize": 3, "labelPadding": 2, "titlePadding": 3, "labelFlush": false}},
  "x2": {"field": "q1"}}},
{"mark": {"type": "rule", "color": "#EDB52A", "strokeWidth": 1},
 "encoding": {"y": {"field": "g", "type": "nominal", "sort": null}, "x": {"field": "q3", "type": "quantitative"}, "x2": {"field": "hi"}}},
{"mark": {"type": "bar", "fill": "white", "fillOpacity": 0, "stroke": "#EDB52A", "strokeWidth": 1, "size": 8},
 "encoding": {"y": {"field": "g", "type": "nominal", "sort": null}, "x": {"field": "q1", "type": "quantitative"}, "x2": {"field": "q3"}}},
{"mark": {"type": "tick", "color": "#EDB52A", "size": 8, "thickness": 1.5, "orient": "vertical"},
 "encoding": {"y": {"field": "g", "type": "nominal", "sort": null}, "x": {"field": "md", "type": "quantitative"}}},
{"transform": [{"flatten": ["o"], "as": ["v"]}],
 "mark": {"type": "point", "filled": true, "size": 5, "color": "#EDB52A", "opacity": 0.75},
 "encoding": {"y": {"field": "g", "type": "nominal", "sort": null}, "x": {"field": "v", "type": "quantitative"}}},
{"data": {"values": [{"z": 0}]}, "mark": {"type": "rule", "strokeDash": [4, 3], "color": "#333", "strokeWidth": 1},
 "encoding": {"x": {"field": "z", "type": "quantitative"}}}
]
},
{
"width": 90, "height": 492,
"data": {"name": "bqm"},
"title": {"text": "BQM", "fontSize": 17.5, "offset": 4, "dy": 20, "dx": 6},
"layer": [
{"mark": {"type": "rule", "color": "#FA8C1E", "strokeWidth": 1},
 "encoding": {"y": {"field": "g", "type": "nominal", "sort": null, "scale": {"type": "point", "padding": 0.6}, "axis": {"title": "b", "titleAngle": 0, "titleX": -3, "titleY": -5, "titleAlign": "right", "titleBaseline": "alphabetic", "titleFontSize": 23, "labelFontSize": 11.6, "labelPadding": 2.5, "tickSize": 5, "labelOverlap": false, "labelBound": false}},
  "x": {"field": "lo", "type": "quantitative", "scale": {"domain": [-10.25, 7.39], "nice": false, "zero": false}, "axis": {"values": [-10, -5, 0, 5], "title": "log₂(fold change)", "titleFontSize": 12, "labelFontSize": 11, "tickSize": 3, "labelPadding": 2, "titlePadding": 3, "labelFlush": false}},
  "x2": {"field": "q1"}}},
{"mark": {"type": "rule", "color": "#FA8C1E", "strokeWidth": 1},
 "encoding": {"y": {"field": "g", "type": "nominal", "sort": null}, "x": {"field": "q3", "type": "quantitative"}, "x2": {"field": "hi"}}},
{"mark": {"type": "bar", "fill": "white", "fillOpacity": 0, "stroke": "#FA8C1E", "strokeWidth": 1, "size": 8},
 "encoding": {"y": {"field": "g", "type": "nominal", "sort": null}, "x": {"field": "q1", "type": "quantitative"}, "x2": {"field": "q3"}}},
{"mark": {"type": "tick", "color": "#FA8C1E", "size": 8, "thickness": 1.5, "orient": "vertical"},
 "encoding": {"y": {"field": "g", "type": "nominal", "sort": null}, "x": {"field": "md", "type": "quantitative"}}},
{"transform": [{"flatten": ["o"], "as": ["v"]}],
 "mark": {"type": "point", "filled": true, "size": 5, "color": "#FA8C1E", "opacity": 0.75},
 "encoding": {"y": {"field": "g", "type": "nominal", "sort": null}, "x": {"field": "v", "type": "quantitative"}}},
{"data": {"values": [{"z": 0}]}, "mark": {"type": "rule", "strokeDash": [4, 3], "color": "#333", "strokeWidth": 1},
 "encoding": {"x": {"field": "z", "type": "quantitative"}}}
]
},
{
"width": 95, "height": 492,
"data": {"name": "lac"},
"title": {"text": "Lactulose", "fontSize": 17.5, "offset": 4, "dy": 20},
"layer": [
{"mark": {"type": "rule", "color": "#1C3A5E", "strokeWidth": 1},
 "encoding": {"y": {"field": "g", "type": "nominal", "sort": null, "scale": {"type": "point", "padding": 0.6}, "axis": {"title": "c", "titleAngle": 0, "titleX": -3, "titleY": -5, "titleAlign": "right", "titleBaseline": "alphabetic", "titleFontSize": 23, "labelFontSize": 11.6, "labelPadding": 2.5, "tickSize": 5, "labelOverlap": false, "labelBound": false}},
  "x": {"field": "lo", "type": "quantitative", "scale": {"domain": [-10.33, 8.19], "nice": false, "zero": false}, "axis": {"values": [-10, -5, 0, 5], "title": "log₂(fold change)", "titleFontSize": 12, "labelFontSize": 11, "tickSize": 3, "labelPadding": 2, "titlePadding": 3, "labelFlush": false}},
  "x2": {"field": "q1"}}},
{"mark": {"type": "rule", "color": "#1C3A5E", "strokeWidth": 1},
 "encoding": {"y": {"field": "g", "type": "nominal", "sort": null}, "x": {"field": "q3", "type": "quantitative"}, "x2": {"field": "hi"}}},
{"mark": {"type": "bar", "fill": "white", "fillOpacity": 0, "stroke": "#1C3A5E", "strokeWidth": 1, "size": 8},
 "encoding": {"y": {"field": "g", "type": "nominal", "sort": null}, "x": {"field": "q1", "type": "quantitative"}, "x2": {"field": "q3"}}},
{"mark": {"type": "tick", "color": "#1C3A5E", "size": 8, "thickness": 1.5, "orient": "vertical"},
 "encoding": {"y": {"field": "g", "type": "nominal", "sort": null}, "x": {"field": "md", "type": "quantitative"}}},
{"transform": [{"flatten": ["o"], "as": ["v"]}],
 "mark": {"type": "point", "filled": true, "size": 5, "color": "#1C3A5E", "opacity": 0.75},
 "encoding": {"y": {"field": "g", "type": "nominal", "sort": null}, "x": {"field": "v", "type": "quantitative"}}},
{"data": {"values": [{"z": 0}]}, "mark": {"type": "rule", "strokeDash": [4, 3], "color": "#333", "strokeWidth": 1},
 "encoding": {"x": {"field": "z", "type": "quantitative"}}}
]
}
]
},
{
"width": 546, "height": 168,
"view": {"stroke": null},
"title": {"text": "d", "anchor": "start", "fontSize": 26, "dx": 31, "dy": 41, "offset": 0},
"resolve": {"scale": {"y": "independent"}},
"layer": [
{"layer": [
 {"data": {"name": "hm"},
  "transform": [{"fold": ["Lactulose", "BRF", "BQM"], "as": ["r", "v"]}, {"lookup": "r", "from": {"data": {"name": "rows"}, "key": "r", "fields": ["y"]}}, {"filter": "datum.v == null"}, {"bin": {"step": 1, "extent": [0, 65]}, "field": "i", "as": ["i0", "i1"]}, {"bin": {"step": 1, "extent": [0, 3]}, "field": "y", "as": ["y0", "y1"]}],
  "mark": {"type": "rect", "color": "#DCDCDC"},
  "encoding": {"x": {"field": "i0", "type": "quantitative", "scale": {"domain": [8.338, 72.6], "nice": false, "zero": false}, "axis": null}, "x2": {"field": "i1"},
   "y": {"field": "y0", "type": "quantitative", "scale": {"domain": [0, 4.8932], "nice": false, "zero": false}, "axis": null}, "y2": {"field": "y1"}}},
 {"data": {"name": "hm"},
  "transform": [{"fold": ["Lactulose", "BRF", "BQM"], "as": ["r", "v"]}, {"lookup": "r", "from": {"data": {"name": "rows"}, "key": "r", "fields": ["y"]}}, {"filter": "datum.v != null"}, {"bin": {"step": 1, "extent": [0, 65]}, "field": "i", "as": ["i0", "i1"]}, {"bin": {"step": 1, "extent": [0, 3]}, "field": "y", "as": ["y0", "y1"]}],
  "mark": {"type": "rect"},
  "encoding": {"x": {"field": "i0", "type": "quantitative"}, "x2": {"field": "i1"},
   "y": {"field": "y0", "type": "quantitative"}, "y2": {"field": "y1"},
   "color": {"field": "v", "type": "quantitative", "scale": {"domain": [6, 0, -3], "range": ["#ff0000", "#ffffff", "#0000ff"], "interpolate": "rgb"},
     "legend": {"orient": "none", "legendX": 426, "legendY": 544, "direction": "horizontal", "gradientLength": 117, "gradientThickness": 13, "values": [6, 4, 2, 0, -2], "title": "log₂(fold change)", "titleOrient": "bottom", "titleAnchor": "middle", "titleFontSize": 12, "titleFontWeight": "normal", "titleColor": "#000", "titlePadding": 4, "labelFontSize": 12, "labelColor": "#000", "labelOffset": -27, "labelAlign": "center", "gradientStrokeWidth": 0}}}},
 {"data": {"name": "hm"},
  "transform": [{"fold": ["Lactulose", "BRF", "BQM"], "as": ["r", "v"]}, {"lookup": "r", "from": {"data": {"name": "rows"}, "key": "r", "fields": ["y"]}}, {"filter": "indexof(datum.s, datum.r) >= 0"}],
  "mark": {"type": "point", "filled": true, "size": 3, "color": "#555", "opacity": 0.9},
  "encoding": {"x": {"field": "i", "type": "quantitative"}, "y": {"field": "y", "type": "quantitative"}}},
 {"data": {"name": "rows"},
  "mark": {"type": "text", "angle": 31, "align": "left", "baseline": "middle", "dx": 5, "fontSize": 12.5, "color": "#000"},
  "encoding": {"x": {"datum": 65, "type": "quantitative"}, "y": {"field": "y", "type": "quantitative"}, "text": {"field": "r"}}},
 {"data": {"name": "hm"},
  "mark": {"type": "text", "angle": 90, "align": "left", "baseline": "middle", "dx": 3, "fontSize": 9, "color": "#000"},
  "encoding": {"x": {"field": "i", "type": "quantitative"}, "y": {"datum": 0, "type": "quantitative"}, "text": {"field": "c"}}},
 {"data": {"name": "rd"}, "mark": {"type": "rule", "color": "#3a3a3a", "strokeWidth": 1},
  "encoding": {"x": {"field": "h", "type": "quantitative"}, "y": {"field": "a", "type": "quantitative"}, "y2": {"field": "b"}}},
 {"data": {"name": "rd"}, "mark": {"type": "rule", "color": "#3a3a3a", "strokeWidth": 1},
  "encoding": {"x": {"field": "ha", "type": "quantitative"}, "x2": {"field": "h"}, "y": {"field": "a", "type": "quantitative"}}},
 {"data": {"name": "rd"}, "mark": {"type": "rule", "color": "#3a3a3a", "strokeWidth": 1},
  "encoding": {"x": {"field": "hb", "type": "quantitative"}, "x2": {"field": "h"}, "y": {"field": "b", "type": "quantitative"}}}
]},
{"layer": [
 {"data": {"name": "cd"}, "mark": {"type": "rule", "color": "#3a3a3a", "strokeWidth": 1},
  "encoding": {"x": {"field": "l", "type": "quantitative"}, "x2": {"field": "r"}, "y": {"field": "h", "type": "quantitative", "scale": {"domain": [-103, 65], "nice": false, "zero": false}, "axis": null}}},
 {"data": {"name": "cd"}, "mark": {"type": "rule", "color": "#3a3a3a", "strokeWidth": 1},
  "encoding": {"x": {"field": "l", "type": "quantitative"}, "y": {"field": "hl", "type": "quantitative"}, "y2": {"field": "h"}}},
 {"data": {"name": "cd"}, "mark": {"type": "rule", "color": "#3a3a3a", "strokeWidth": 1},
  "encoding": {"x": {"field": "r", "type": "quantitative"}, "y": {"field": "hr", "type": "quantitative"}, "y2": {"field": "h"}}}
]}
]
}
],
"columns": 1,
"align": "none",
"spacing": 11
}
